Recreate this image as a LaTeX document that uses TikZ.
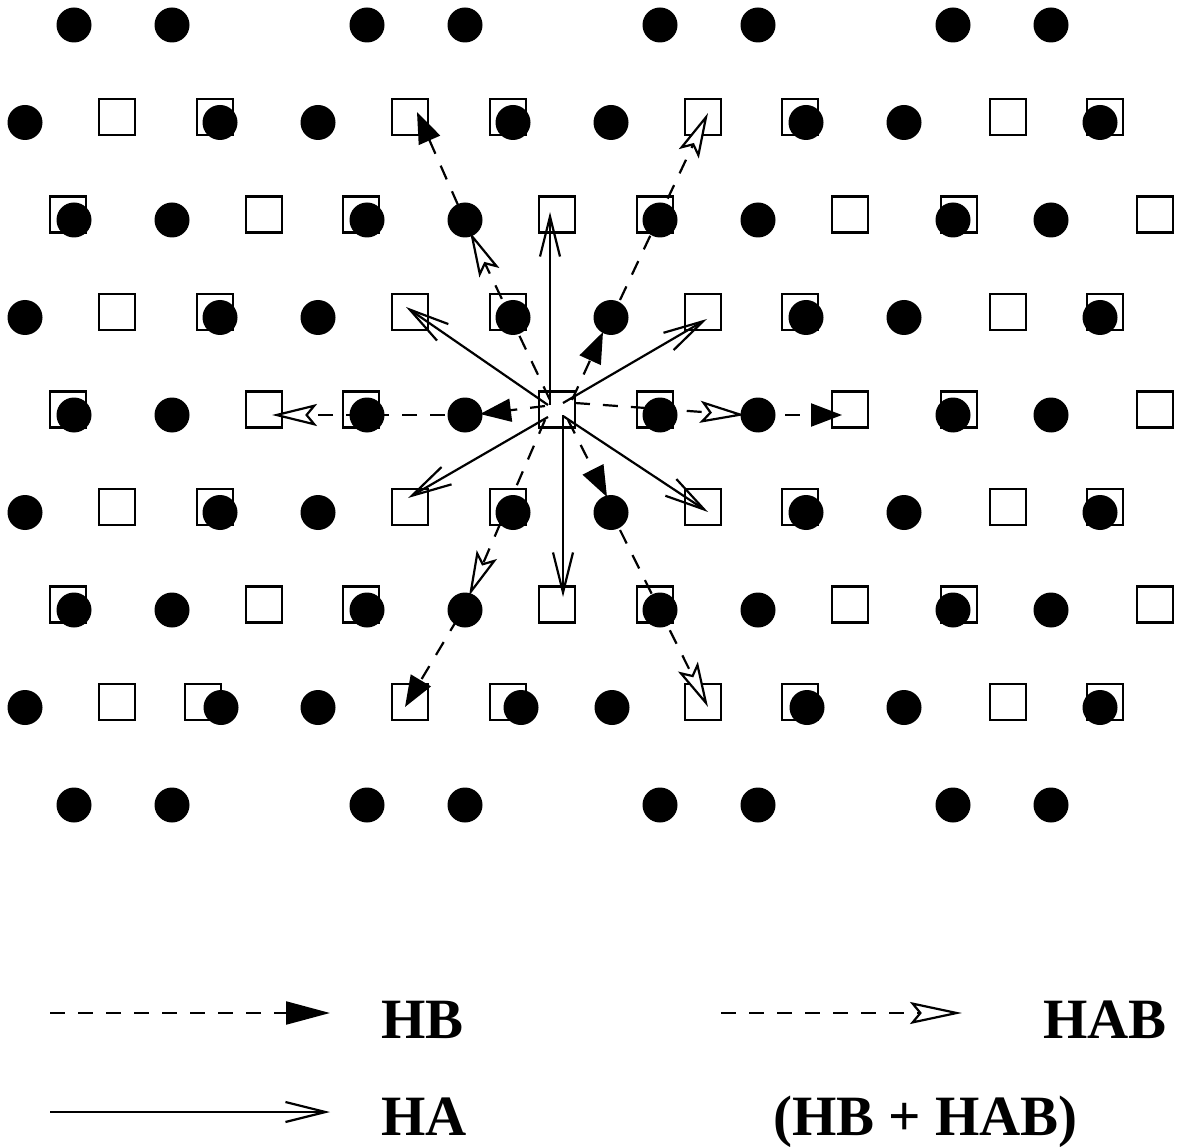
\documentclass[tikz,border=0pt]{standalone}
\usepackage{fontspec}
\setmainfont{Liberation Serif}
\usetikzlibrary{arrows.meta}

\begin{document}
\begin{tikzpicture}[
    x=1pt, y=-1pt,
    line width=2.2pt,
    % Site styles
    dotsite/.style={
        circle, fill=black,
        minimum size=35pt, inner sep=0pt
    },
    sqsite/.style={
        rectangle, draw=black, fill=white,
        minimum size=36pt, inner sep=0pt,
        line width=2.2pt
    },
    % Hopping styles
    haarrow/.style={
        -{Straight Barb[length=40pt, width=20pt]}
    },
    hbarrow/.style={
        -{Triangle[length=#1, width=23pt]},
        dash pattern=on 15pt off 13pt
    },
    hbarrow/.default=31pt,
    habarrow/.style={
        -{Stealth[length=#1, width=22pt, inset=9pt, fill=white]},
        dash pattern=on 15pt off 13pt
    },
    habarrow/.default=45pt,
    keylabel/.style={
        font=\fontsize{57}{60}\selectfont\bfseries,
        anchor=base west, inner sep=0pt
    },
]
\useasboundingbox (0,0) rectangle (1183,1147);

% ===== SQUARE SITES =====
\foreach \r/\y in {2/214.5, 4/409.5, 6/604.5}
    \foreach \x [count=\i] in {68,264,361,557,655,850,959,1155}
        \node[sqsite] (s\r-\i) at (\x,\y) {};
\foreach \r/\y in {1/117, 3/312, 5/507}
    \foreach \x [count=\i] in {117,215,410,508,703,800,1008,1105}
        \node[sqsite] (s\r-\i) at (\x,\y) {};
\foreach \x [count=\i] in {117,203,410,508,703,800,1008,1105}
    \node[sqsite] (s7-\i) at (\x,702) {};

% ===== DOT SITES =====
\foreach \r/\y in {0/25, 2/220, 4/415, 6/610, 8/805}
    \foreach \x [count=\i] in {74,172,367,465,660,758,953,1051}
        \node[dotsite] (d\r-\i) at (\x,\y) {};
\foreach \r/\y in {1/122.5, 3/317.5, 5/512.5}
    \foreach \x [count=\i] in {25,220,318,513,611,806,904,1100}
        \node[dotsite] (d\r-\i) at (\x,\y) {};
\foreach \x [count=\i] in {25,221,318,521,612,807,904,1100}
    \node[dotsite] (d7-\i) at (\x,707.5) {};

% ===== HA HOPPINGS =====
\draw[haarrow] ([shift={(-7,-4.5)}]s4-4.center) -- ([shift={(-7,-2.5)}]s2-4.center);
\draw[haarrow] ([shift={(6,5.5)}]s4-4.center) -- ([shift={(6,-7.5)}]s6-4.center);
\draw[haarrow] ([shift={(-9,-4.5)}]s4-4.center) -- ([shift={(-4,-5)}]s3-3.center);
\draw[haarrow] ([shift={(6,-6.5)}]s4-4.center) -- ([shift={(4,7)}]s3-5.center);
\draw[haarrow] ([shift={(-9,7.5)}]s4-4.center) -- ([shift={(-2,-9)}]s5-3.center);
\draw[haarrow] ([shift={(6,6.5)}]s4-4.center) -- ([shift={(5,5)}]s5-5.center);

% ===== HB HOPPINGS =====
\draw[hbarrow] ([shift={(-12,-3.5)}]s4-4.center) -- ([shift={(15,-1)}]d4-4.center);
\draw[hbarrow] ([shift={(27,0)}]d4-6.center) -- ([shift={(-8,5.5)}]s4-6.center);
\draw[hbarrow] ([shift={(-7,-15)}]d2-4.center) -- ([shift={(7,-5)}]s1-3.center);
\draw[hbarrow] ([shift={(15,-9.5)}]s4-4.center) -- ([shift={(-8,14.5)}]d3-5.center);
\draw[hbarrow] ([shift={(-7,8)}]d6-4.center) -- ([shift={(-5,5)}]s7-3.center);
\draw[hbarrow] ([shift={(11,10.5)}]s4-4.center) -- ([shift={(-4,-15.5)}]d5-5.center);

% ===== HAB HOPPINGS =====
\draw[habarrow] ([shift={(-20,0)}]d4-4.center) -- ([shift={(8,5.5)}]s4-2.center);
\draw[habarrow] ([shift={(18,-6.5)}]s4-4.center) -- ([shift={(-13,0)}]d4-6.center);
\draw[habarrow] ([shift={(-7,-9.5)}]s4-4.center) -- ([shift={(5,12)}]d2-4.center);
\draw[habarrow] ([shift={(9,-17.5)}]d3-5.center) -- ([shift={(5,-4)}]s1-5.center);
\draw[habarrow] ([shift={(-12,10.5)}]s4-4.center) -- ([shift={(4,-14)}]d6-4.center);
\draw[habarrow] ([shift={(9,17.5)}]d5-5.center) -- ([shift={(5,5)}]s7-5.center);

% ===== LEGEND =====
\coordinate (hbstart) at (50,1013);
\coordinate (hbend) at (330,1013);
\coordinate (habstart) at (721,1013);
\coordinate (habend) at (962,1013);
\coordinate (hastart) at (50,1112);
\coordinate (haend) at (330,1112);

\draw[hbarrow=44pt] (hbstart) -- (hbend);
\draw[habarrow=52pt] (habstart) -- (habend);
\draw[haarrow] (hastart) -- (haend);

\node[keylabel] (hblabel) at (380,1038) {HB};
\node[keylabel] (hablabel) at (1042,1038) {HAB};
\node[keylabel] (halabel) at (380,1135) {HA};
\node[keylabel] (sumlabel) at (772,1135) {(HB + HAB)};

\end{tikzpicture}
\end{document}
